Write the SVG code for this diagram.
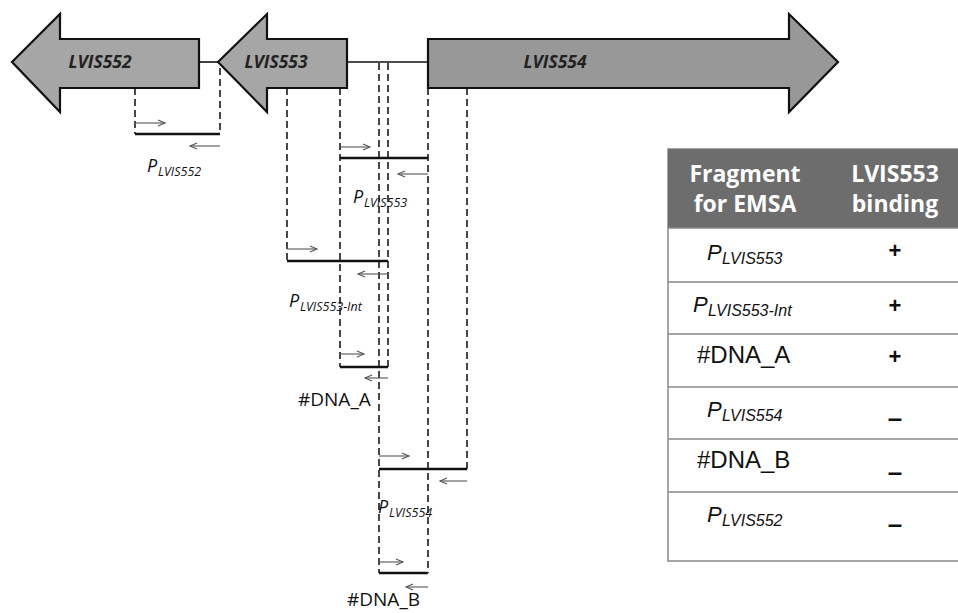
<svg xmlns="http://www.w3.org/2000/svg" width="958" height="613" viewBox="0 0 958 613">
<defs>
<marker id="oh" markerUnits="userSpaceOnUse" markerWidth="10" markerHeight="8" refX="8" refY="4" orient="auto">
<path d="M1,1 L8,4 L1,7" fill="none" stroke="#555" stroke-width="1.1"/>
</marker>
<style>
.gene{stroke:#111;stroke-width:2.2}
.glab{font-family:"Open Sans","Liberation Sans",sans-serif;font-weight:bold;font-style:italic;font-size:17.5px;fill:#222}
.dash{stroke:#1a1a1a;stroke-width:1.6;stroke-dasharray:7,4;fill:none}
.frag{stroke:#111;stroke-width:2.4}
.pr{stroke:#555;stroke-width:1.1;marker-end:url(#oh)}
.lnk{stroke:#111;stroke-width:1.6}
.lab{font-family:"Open Sans","Liberation Sans",sans-serif;font-style:italic;fill:#111}
.p{font-size:18px}
.s{font-size:12.5px}
.dna{font-family:"Open Sans","Liberation Sans",sans-serif;font-size:19px;fill:#111}
.th{font-family:"Open Sans","Liberation Sans",sans-serif;font-weight:bold;font-size:23px;fill:#fff;text-anchor:middle}
.tp{font-family:"Liberation Sans",Arial,sans-serif;font-style:italic;fill:#111}
.tP{font-size:22px}
.tS{font-size:16px}
.tt{font-family:"Liberation Sans",Arial,sans-serif;font-size:24px;fill:#111}
.sg{font-family:"Liberation Sans",Arial,sans-serif;font-size:22px;font-weight:bold;fill:#111;text-anchor:middle}
.mn{font-family:"Liberation Sans",Arial,sans-serif;font-size:26px;font-weight:bold;fill:#111;text-anchor:middle}
.rl{stroke:#888;stroke-width:1.5}
</style>
</defs>
<rect width="958" height="613" fill="#fff"/>

<g id="connectors">
<line class="lnk" x1="199" y1="62" x2="218" y2="62"/>
<line class="lnk" x1="347" y1="62" x2="428" y2="62"/>
<line class="dash" x1="135" y1="88" x2="135" y2="134"/>
<line class="dash" x1="220" y1="68" x2="220" y2="134"/>
<line class="dash" x1="287" y1="88" x2="287" y2="261"/>
<line class="dash" x1="340" y1="88" x2="340" y2="367"/>
<line class="dash" x1="379" y1="63" x2="379" y2="573"/>
<line class="dash" x1="388" y1="63" x2="388" y2="367"/>
<line class="dash" x1="428" y1="88" x2="428" y2="573"/>
<line class="dash" x1="467" y1="88" x2="467" y2="469"/>
<line class="frag" x1="135" y1="134" x2="220" y2="134"/>
<line class="frag" x1="340" y1="158" x2="428" y2="158"/>
<line class="frag" x1="287" y1="261" x2="388" y2="261"/>
<line class="frag" x1="340" y1="367" x2="388" y2="367"/>
<line class="frag" x1="379" y1="469" x2="467" y2="469"/>
<line class="frag" x1="379" y1="573" x2="428" y2="573"/>
<line class="pr" x1="135" y1="123" x2="165" y2="123"/>
<line class="pr" x1="220" y1="146" x2="190" y2="146"/>
<line class="pr" x1="340" y1="147" x2="370" y2="147"/>
<line class="pr" x1="428" y1="174" x2="398" y2="174"/>
<line class="pr" x1="287" y1="249" x2="317" y2="249"/>
<line class="pr" x1="388" y1="274" x2="358" y2="274"/>
<line class="pr" x1="340" y1="354" x2="364" y2="354"/>
<line class="pr" x1="388" y1="378" x2="365" y2="378"/>
<line class="pr" x1="379" y1="456" x2="409" y2="456"/>
<line class="pr" x1="467" y1="481" x2="440" y2="481"/>
<line class="pr" x1="379" y1="562" x2="403" y2="562"/>
<line class="pr" x1="428" y1="587" x2="406" y2="587"/>
</g>

<g id="LVIS552">
<polygon class="gene" fill="#a6a6a6" points="12,62 60,14 60,39 199,39 199,88 60,88 60,112"/>
<text class="glab" x="100" y="68" text-anchor="middle">LVIS552</text>
</g>
<g id="LVIS553">
<polygon class="gene" fill="#a6a6a6" points="218,62 267,14 267,39 347,39 347,88 267,88 267,112"/>
<text class="glab" x="276" y="68" text-anchor="middle">LVIS553</text>
</g>
<g id="LVIS554">
<polygon class="gene" fill="#989898" points="428,39 789,39 789,14 838,62 789,112 789,88 428,88"/>
<text class="glab" x="555" y="68" text-anchor="middle">LVIS554</text>
</g>

<g id="label-P552"><text class="lab"><tspan class="p" x="147" y="172">P</tspan><tspan class="s" x="158" y="176">LVIS552</tspan></text></g>
<g id="label-P553"><text class="lab"><tspan class="p" x="353" y="203">P</tspan><tspan class="s" x="364" y="207">LVIS553</tspan></text></g>
<g id="label-P553Int"><text class="lab"><tspan class="p" x="289" y="307">P</tspan><tspan class="s" x="300" y="311">LVIS553-Int</tspan></text></g>
<g id="label-DNAA"><text class="dna" x="298" y="406">#DNA_A</text></g>
<g id="label-P554"><text class="lab"><tspan class="p" x="378" y="513">P</tspan><tspan class="s" x="389" y="517">LVIS554</tspan></text></g>
<g id="label-DNAB"><text class="dna" x="347" y="606">#DNA_B</text></g>

<g id="table">
<rect x="668" y="149" width="300" height="412" fill="#fff" stroke="#888" stroke-width="1.5"/>
<rect x="668" y="149" width="300" height="79" fill="#6d6d6d"/>
<text class="th" x="745" y="182">Fragment</text>
<text class="th" x="745" y="212">for EMSA</text>
<text class="th" x="895" y="182">LVIS553</text>
<text class="th" x="895" y="212">binding</text>
<line class="rl" x1="668" y1="228" x2="958" y2="228"/>
<line class="rl" x1="668" y1="282" x2="958" y2="282"/>
<line class="rl" x1="668" y1="334" x2="958" y2="334"/>
<line class="rl" x1="668" y1="387" x2="958" y2="387"/>
<line class="rl" x1="668" y1="439" x2="958" y2="439"/>
<line class="rl" x1="668" y1="492" x2="958" y2="492"/>
<text class="tp"><tspan class="tP" x="707" y="260">P</tspan><tspan class="tS" x="722" y="264">LVIS553</tspan></text>
<text class="sg" x="895" y="258">+</text>
<text class="tp"><tspan class="tP" x="693" y="312">P</tspan><tspan class="tS" x="708" y="316">LVIS553-Int</tspan></text>
<text class="sg" x="895" y="313">+</text>
<text class="tt" x="697" y="363">#DNA_A</text>
<text class="sg" x="895" y="364">+</text>
<text class="tp"><tspan class="tP" x="707" y="417">P</tspan><tspan class="tS" x="722" y="421">LVIS554</tspan></text>
<text class="mn" x="895" y="427">–</text>
<text class="tt" x="697" y="468">#DNA_B</text>
<text class="mn" x="895" y="481">–</text>
<text class="mn" x="895" y="533">–</text>
<text class="tp"><tspan class="tP" x="707" y="522">P</tspan><tspan class="tS" x="722" y="526">LVIS552</tspan></text>
</g>
</svg>
